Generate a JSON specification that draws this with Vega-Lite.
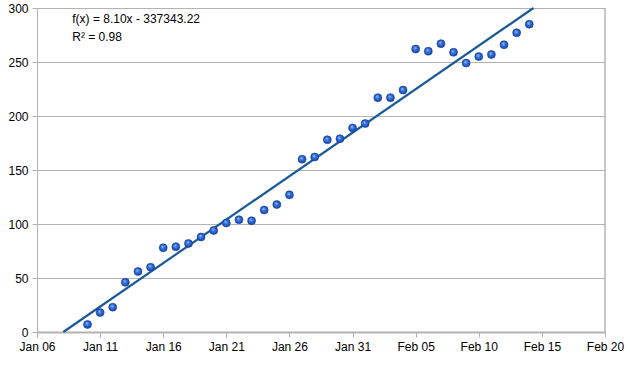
{
  "$schema": "https://vega.github.io/schema/vega-lite/v6.json",
  "autosize": "none",
  "width": 568,
  "height": 324,
  "padding": {"left": 37, "top": 8, "right": 25, "bottom": 38},
  "background": "white",
  "config": {
    "view": {"stroke": null},
    "font": "Liberation Sans"
  },
  "datasets": {
    "points": [
      {"date": "2014-01-10", "value": 7},
      {"date": "2014-01-11", "value": 18},
      {"date": "2014-01-12", "value": 23},
      {"date": "2014-01-13", "value": 46},
      {"date": "2014-01-14", "value": 56},
      {"date": "2014-01-15", "value": 60},
      {"date": "2014-01-16", "value": 78},
      {"date": "2014-01-17", "value": 79},
      {"date": "2014-01-18", "value": 82},
      {"date": "2014-01-19", "value": 88},
      {"date": "2014-01-20", "value": 94},
      {"date": "2014-01-21", "value": 101},
      {"date": "2014-01-22", "value": 104},
      {"date": "2014-01-23", "value": 103},
      {"date": "2014-01-24", "value": 113},
      {"date": "2014-01-25", "value": 118},
      {"date": "2014-01-26", "value": 127},
      {"date": "2014-01-27", "value": 160},
      {"date": "2014-01-28", "value": 162},
      {"date": "2014-01-29", "value": 178},
      {"date": "2014-01-30", "value": 179},
      {"date": "2014-01-31", "value": 189},
      {"date": "2014-02-01", "value": 193},
      {"date": "2014-02-02", "value": 217},
      {"date": "2014-02-03", "value": 217},
      {"date": "2014-02-04", "value": 224},
      {"date": "2014-02-05", "value": 262},
      {"date": "2014-02-06", "value": 260},
      {"date": "2014-02-07", "value": 267},
      {"date": "2014-02-08", "value": 259},
      {"date": "2014-02-09", "value": 249},
      {"date": "2014-02-10", "value": 255},
      {"date": "2014-02-11", "value": 257},
      {"date": "2014-02-12", "value": 266},
      {"date": "2014-02-13", "value": 277},
      {"date": "2014-02-14", "value": 285}
    ],
    "trend": [
      {"date": "2014-01-08T02:00:00Z", "value": 0},
      {"date": "2014-02-14T08:00:00Z", "value": 300}
    ],
    "labels": [
      {"date": "2014-01-08T19:00:00Z", "value": 290, "text": "f(x) = 8.10x - 337343.22"},
      {"date": "2014-01-08T19:00:00Z", "value": 273, "text": "R² = 0.98"}
    ]
  },
  "encoding": {
    "x": {
      "field": "date",
      "type": "temporal",
      "scale": {
        "type": "utc",
        "domain": [
          {"year": 2014, "month": 1, "date": 6, "utc": true},
          {"year": 2014, "month": 2, "date": 20, "utc": true}
        ],
        "nice": false
      },
      "axis": {
        "title": null,
        "values": [
          {"year": 2014, "month": 1, "date": 6, "utc": true},
          {"year": 2014, "month": 1, "date": 11, "utc": true},
          {"year": 2014, "month": 1, "date": 16, "utc": true},
          {"year": 2014, "month": 1, "date": 21, "utc": true},
          {"year": 2014, "month": 1, "date": 26, "utc": true},
          {"year": 2014, "month": 1, "date": 31, "utc": true},
          {"year": 2014, "month": 2, "date": 5, "utc": true},
          {"year": 2014, "month": 2, "date": 10, "utc": true},
          {"year": 2014, "month": 2, "date": 15, "utc": true},
          {"year": 2014, "month": 2, "date": 20, "utc": true}
        ],
        "format": "%b %d",
        "grid": false,
        "domainColor": "#b3b3b3",
        "domainWidth": 2,
        "tickColor": "#b3b3b3",
        "tickSize": 5,
        "labelFont": "Liberation Sans",
        "labelFontSize": 12,
        "labelColor": "#000000",
        "labelPadding": 4,
        "labelFlush": false,
        "labelOverlap": false
      }
    },
    "y": {
      "field": "value",
      "type": "quantitative",
      "scale": {"domain": [0, 300], "nice": false, "zero": true},
      "axis": {
        "title": null,
        "values": [0, 50, 100, 150, 200, 250, 300],
        "grid": true,
        "gridColor": "#b3b3b3",
        "gridWidth": 1,
        "domainColor": "#b3b3b3",
        "tickColor": "#b3b3b3",
        "tickSize": 5,
        "labelFont": "Liberation Sans",
        "labelFontSize": 12,
        "labelColor": "#000000",
        "labelPadding": 4,
        "labelFlush": false
      }
    }
  },
  "layer": [
    {
      "data": {"values": [{"date": "2014-02-20", "value": 0}, {"date": "2014-02-20", "value": 300}]},
      "mark": {"type": "line", "color": "#b3b3b3", "strokeWidth": 1.5},
      "encoding": {}
    },
    {
      "data": {"name": "trend"},
      "mark": {"type": "line", "color": "#1a5a96", "strokeWidth": 2.2},
      "encoding": {}
    },
    {
      "data": {"name": "points"},
      "mark": {
        "type": "circle",
        "size": 64,
        "opacity": 1,
        "stroke": "#1644a0",
        "strokeWidth": 0.6,
        "fill": {
          "gradient": "radial",
          "x1": 0.4, "y1": 0.35, "r1": 0,
          "x2": 0.5, "y2": 0.5, "r2": 0.55,
          "stops": [
            {"offset": 0, "color": "#b8d0ff"},
            {"offset": 0.35, "color": "#3c78e6"},
            {"offset": 1, "color": "#123c9a"}
          ]
        }
      },
      "encoding": {}
    },
    {
      "data": {"name": "labels"},
      "mark": {"type": "text", "align": "left", "baseline": "middle", "font": "Liberation Sans", "fontSize": 12, "color": "#000000"},
      "encoding": {"text": {"field": "text"}}
    }
  ]
}
